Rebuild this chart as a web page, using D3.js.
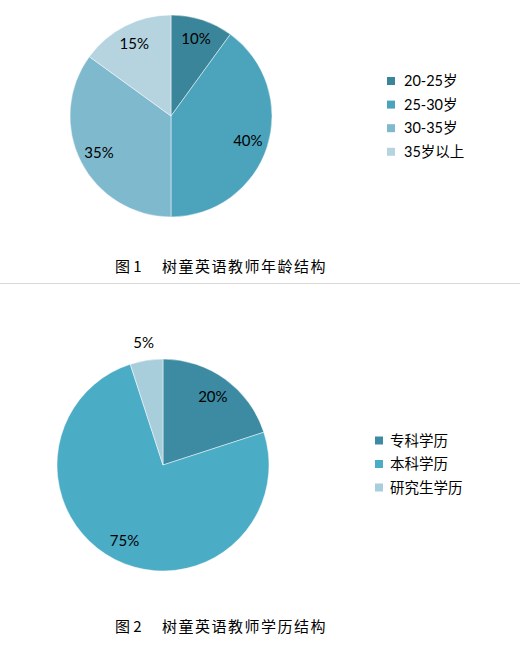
<!DOCTYPE html>
<html>
<head>
<meta charset="utf-8">
<script src="https://cdn.jsdelivr.net/npm/d3@7"></script>
<style>
  body { margin: 0; background: #fff; }
  text { font-family: Lato, "Noto Sans CJK SC", sans-serif; fill: #000; }
  .caption { font-family: "Noto Sans CJK SC", sans-serif; font-size: 15px; }
</style>
</head>
<body>
<svg id="chart"></svg>
<script>
// chart 1 : age
const ageLabels = ['20-25岁', '25-30岁', '30-35岁', '35岁以上'];
const ageValues = [10, 40, 35, 15];
const ageColors = ['#3A8599', '#4BA3BC', '#7FB9CE', '#B6D4E0'];

// chart 2 : education
const eduLabels = ['专科学历', '本科学历', '研究生学历'];
const eduValues = [20, 75, 5];
const eduColors = ['#3C8BA2', '#4BACC6', '#A8CEDC'];

const captions = [
    { no: '图 1', title: '树童英语教师年龄结构' },
    { no: '图 2', title: '树童英语教师学历结构' }
];

const svg = d3.select('#chart')
    .attr('width', 520)
    .attr('height', 646);

function drawPie(config, labels, values, colors){
    const data = labels.map((l, i) => ({ label: l, value: values[i] }));

    const pie = d3.pie()
        .sort(null)
        .value(d => d.value);

    const arc = d3.arc()
        .innerRadius(0)
        .outerRadius(config.r);

    const labelArc = d3.arc()
        .innerRadius(config.r * 0.8)
        .outerRadius(config.r * 0.8);

    const outerArc = d3.arc()
        .innerRadius(config.r + 18)
        .outerRadius(config.r + 18);

    const color = d3.scaleOrdinal()
        .domain(labels)
        .range(colors);

    const g = svg.append('g')
        .attr('transform', `translate(${config.cx}, ${config.cy})`);

    const arcs = pie(data);

    g.selectAll('path').data(arcs).enter()
        .append('path')
        .attr('d', arc)
        .attr('fill', d => color(d.data.label))
        .attr('stroke', '#fff')
        .attr('stroke-opacity', 0.6)
        .attr('stroke-width', 0.8);

    // small slices get their label outside
    g.selectAll('text').data(arcs).enter()
        .append('text')
        .attr('transform', d => {
            const c = (d.endAngle - d.startAngle) < 0.5 ? outerArc.centroid(d) : labelArc.centroid(d);
            return `translate(${c[0]}, ${c[1]})`;
        })
        .attr('text-anchor', 'middle')
        .attr('dy', '0.35em')
        .style('font-size', '15px')
        .text(d => d.data.value + '%');

    // legend
    const legend = svg.append('g')
        .attr('transform', `translate(${config.lx}, ${config.ly})`);

    const row = d3.scaleBand()
        .domain(labels)
        .range([0, labels.length * config.step]);

    const item = legend.selectAll('g').data(data).enter()
        .append('g')
        .attr('transform', d => `translate(0, ${row(d.label)})`);

    item.append('rect')
        .attr('x', 0)
        .attr('y', -4)
        .attr('width', 8)
        .attr('height', 8)
        .attr('fill', d => color(d.label));

    item.append('text')
        .attr('x', config.tx)
        .attr('dy', '0.36em')
        .style('font-size', '14.5px')
        .text(d => d.label);

    // caption
    const cap = svg.append('g')
        .attr('class', 'caption')
        .attr('transform', `translate(115, ${config.capY})`);

    cap.append('text')
        .attr('class', 'caption')
        .text(config.caption.no);

    cap.append('text')
        .attr('class', 'caption')
        .attr('x', 47)
        .style('letter-spacing', '1.5px')
        .text(config.caption.title);
}

drawPie({ cx: 171, cy: 116, r: 101, lx: 387, ly: 81, step: 23.6, tx: 17, capY: 272, caption: captions[0] },
    ageLabels, ageValues, ageColors);

svg.append('line')
    .attr('x1', 0)
    .attr('x2', 520)
    .attr('y1', 283.5)
    .attr('y2', 283.5)
    .attr('stroke', '#d9d9d9')
    .attr('stroke-width', 1);

drawPie({ cx: 163, cy: 465, r: 106, lx: 375, ly: 440.5, step: 23.5, tx: 15, capY: 632, caption: captions[1] },
    eduLabels, eduValues, eduColors);
</script>
</body>
</html>
